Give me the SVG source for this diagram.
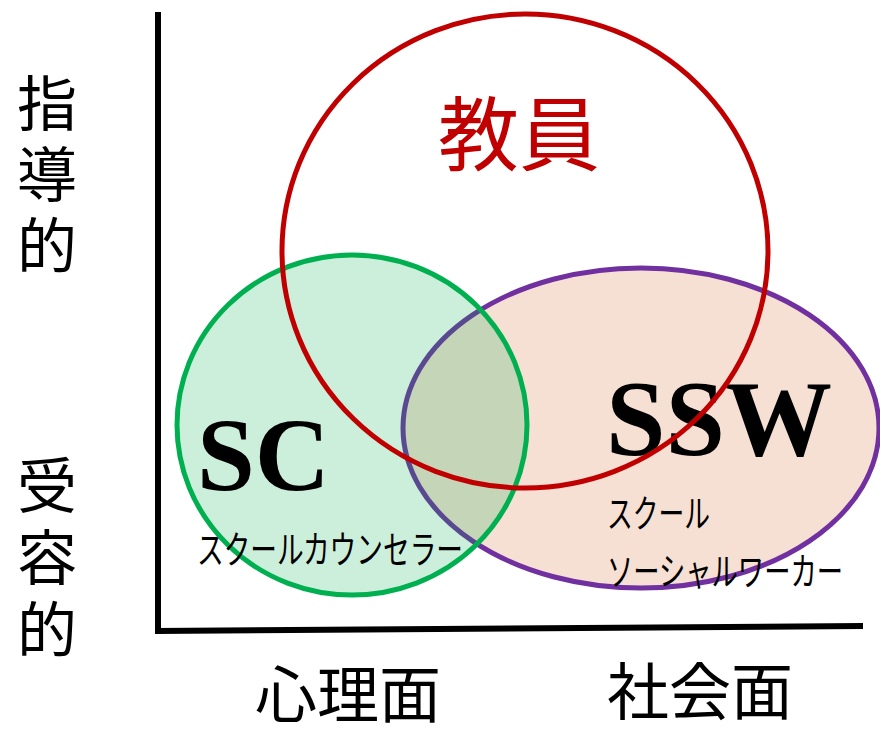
<svg xmlns="http://www.w3.org/2000/svg" width="880" height="730" viewBox="0 0 880 730">
<style>
.jp{font-family:"Noto Sans CJK JP","Noto Sans CJK SC",sans-serif;fill:#000}
.big{font-family:"Liberation Serif","DejaVu Serif",serif;font-weight:bold;fill:#000}
.ax{stroke:#000;stroke-width:6;fill:none}
</style>
<rect width="880" height="730" fill="#fff"/>
<g id="axes">
<line class="ax" x1="158" y1="12" x2="158" y2="634"/>
<line class="ax" x1="155" y1="631" x2="863" y2="626"/>
</g>
<g id="ssw">
<ellipse cx="641" cy="428" rx="238" ry="160" fill="#f6dfd3" stroke="#7030a0" stroke-width="5"/>
<text class="big" x="606" y="455" font-size="107">SSW</text>
<text class="jp" x="607" y="527" font-size="38" textLength="103" lengthAdjust="spacingAndGlyphs">スクール</text>
<text class="jp" x="607" y="585" font-size="38" textLength="236" lengthAdjust="spacingAndGlyphs">ソーシャルワーカー</text>
</g>
<g id="sc">
<ellipse cx="352" cy="425" rx="175" ry="170" fill="rgb(0,176,80)" fill-opacity="0.2" stroke="#00b050" stroke-width="5"/>
<text class="big" x="197" y="490" font-size="104">SC</text>
<text class="jp" x="197" y="563" font-size="38" textLength="266" lengthAdjust="spacingAndGlyphs">スクールカウンセラー</text>
</g>
<g id="teacher">
<ellipse cx="525" cy="251" rx="243" ry="237" fill="none" stroke="#c00000" stroke-width="5"/>
<text class="jp" x="519" y="164" font-size="81" style="fill:#c00000" text-anchor="middle">教員</text>
</g>
<g id="ylabels">
<text class="jp" x="47" y="126" font-size="60" text-anchor="middle">指</text>
<text class="jp" x="47" y="197" font-size="60" text-anchor="middle">導</text>
<text class="jp" x="47" y="268" font-size="60" text-anchor="middle">的</text>
<text class="jp" x="47" y="508" font-size="60" text-anchor="middle">受</text>
<text class="jp" x="47" y="580" font-size="60" text-anchor="middle">容</text>
<text class="jp" x="47" y="652" font-size="60" text-anchor="middle">的</text>
</g>
<g id="xlabels">
<text class="jp" x="348" y="718" font-size="62" text-anchor="middle">心理面</text>
<text class="jp" x="700" y="715" font-size="62" text-anchor="middle">社会面</text>
</g>
</svg>
